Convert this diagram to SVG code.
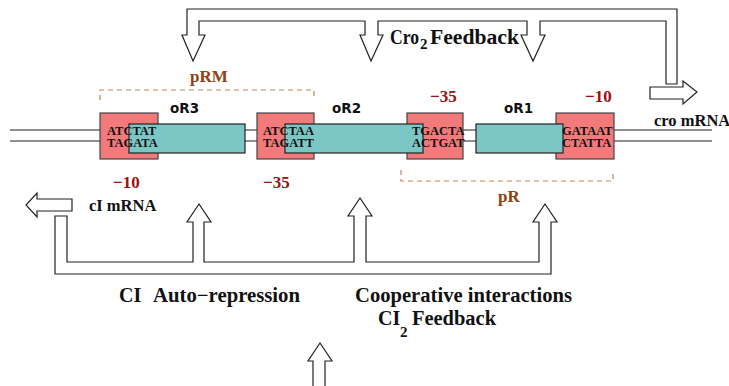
<svg xmlns="http://www.w3.org/2000/svg" width="729" height="386" viewBox="0 0 729 386">
<style>
.ln{fill:none;stroke:#222;stroke-width:1.2}
.arr{fill:#fff;stroke:#222;stroke-width:1.2;stroke-linejoin:miter}
.red{fill:#f27a7a;stroke:#444;stroke-width:1.2}
.teal{fill:#7cc7c5;stroke:#222;stroke-width:1.2}
.dash{fill:none;stroke:#c8835a;stroke-width:1.2;stroke-dasharray:5,4}
.seq{font-family:"Liberation Serif",serif;font-weight:bold;font-size:12.5px;fill:#111}
.or{font-family:"DejaVu Sans",sans-serif;font-weight:bold;font-size:13.5px;fill:#111}
.num{font-family:"Liberation Serif",serif;font-weight:bold;font-size:17px;fill:#990f0f}
.pro{font-family:"Liberation Serif",serif;font-weight:bold;font-size:17px;fill:#8b4513}
.lbl{font-family:"Liberation Serif",serif;font-weight:bold;font-size:16.5px;fill:#111}
.big{font-family:"Liberation Serif",serif;font-weight:bold;font-size:20px;fill:#111}
.sub{font-family:"Liberation Serif",serif;font-weight:bold;font-size:15px;fill:#111}
</style>

<g id="dna">
<line class="ln" x1="10" y1="130" x2="712" y2="130"/>
<line class="ln" x1="10" y1="141" x2="712" y2="141"/>
</g>

<g id="pRM">
<path class="dash" d="M100,100 V90 H314 V100"/>
<text class="pro" x="190" y="82">pRM</text>
</g>
<g id="pR">
<path class="dash" d="M401,170 V181 H613 V170"/>
<text class="pro" x="498" y="202">pR</text>
</g>

<g id="box1"><rect class="red" x="100" y="113" width="58" height="46"/></g>
<g id="box2"><rect class="red" x="257" y="113" width="57" height="46"/></g>
<g id="box3"><rect class="red" x="407" y="113" width="56" height="46"/></g>
<g id="box4"><rect class="red" x="556" y="113" width="58" height="46"/></g>

<g id="oR3"><rect class="teal" x="129" y="124" width="116" height="29"/><text class="or" x="170" y="113">oR3</text></g>
<g id="oR2"><rect class="teal" x="285" y="124" width="138" height="29"/><text class="or" x="332" y="113">oR2</text></g>
<g id="oR1"><rect class="teal" x="476" y="124" width="87" height="29"/><text class="or" x="504" y="113">oR1</text></g>

<g id="seqs">
<text class="seq" x="107" y="135">ATCTAT</text>
<text class="seq" x="107" y="147">TAGATA</text>
<text class="seq" x="263" y="135">ATCTAA</text>
<text class="seq" x="263" y="147">TAGATT</text>
<text class="seq" x="412" y="135">TGACTA</text>
<text class="seq" x="412" y="147">ACTGAT</text>
<text class="seq" x="562" y="135">GATAAT</text>
<text class="seq" x="562" y="147">CTATTA</text>
</g>

<g id="numbers">
<text class="num" x="113" y="188">−10</text>
<text class="num" x="263" y="188">−35</text>
<text class="num" x="430" y="102">−35</text>
<text class="num" x="585" y="102">−10</text>
</g>

<g id="croArrow">
<path class="arr" d="M650,87 H683 V81 L697,92 L683,104 V99 H650 Z"/>
<text class="lbl" x="654" y="126">cro mRNA</text>
</g>
<g id="cIArrow">
<path class="arr" d="M72,199 H37 V193 L26,205 L37,217 V211 H72 Z"/>
<text class="lbl" x="89" y="211">cI mRNA</text>
</g>

<g id="connectors">
<path class="arr" d="M187,35 V9 H677 V84 H666 V21 H540 V35 H545 L533,61 L521,35 H527 V21 H378 V35 H383 L371,61 L360,35 H365 V21 H199 V35 H205 L193,61 L182,35 Z"/>
<path class="arr" d="M55,216 V274 H551 V222 H557 L545,204 L533,222 H539 V262 H366 V216 H372 L360,198 L348,216 H354 V262 H204 V222 H211 L199,204 L187,222 H193 V262 H67 V216 Z"/>
<path class="arr" d="M313,386 V361 H308 L320,343 L332,361 H325 V386"/>
</g>

<g id="labels">
<text class="big" x="390" y="44" font-size="18" textLength="29" lengthAdjust="spacingAndGlyphs">Cro</text>
<text class="sub" x="420" y="49" font-size="14">2</text>
<text class="big" x="430" y="44" font-size="18" textLength="89" lengthAdjust="spacingAndGlyphs">Feedback</text>
<text class="big" x="119" y="302">CI</text>
<text class="big" x="153" y="302" textLength="147" lengthAdjust="spacingAndGlyphs">Auto−repression</text>
<text class="big" x="355" y="302" textLength="217" lengthAdjust="spacingAndGlyphs">Cooperative interactions</text>
<text class="big" x="378" y="325">CI</text>
<text class="sub" x="400" y="337">2</text>
<text class="big" x="412" y="325" textLength="84" lengthAdjust="spacingAndGlyphs">Feedback</text>
</g>
</svg>
